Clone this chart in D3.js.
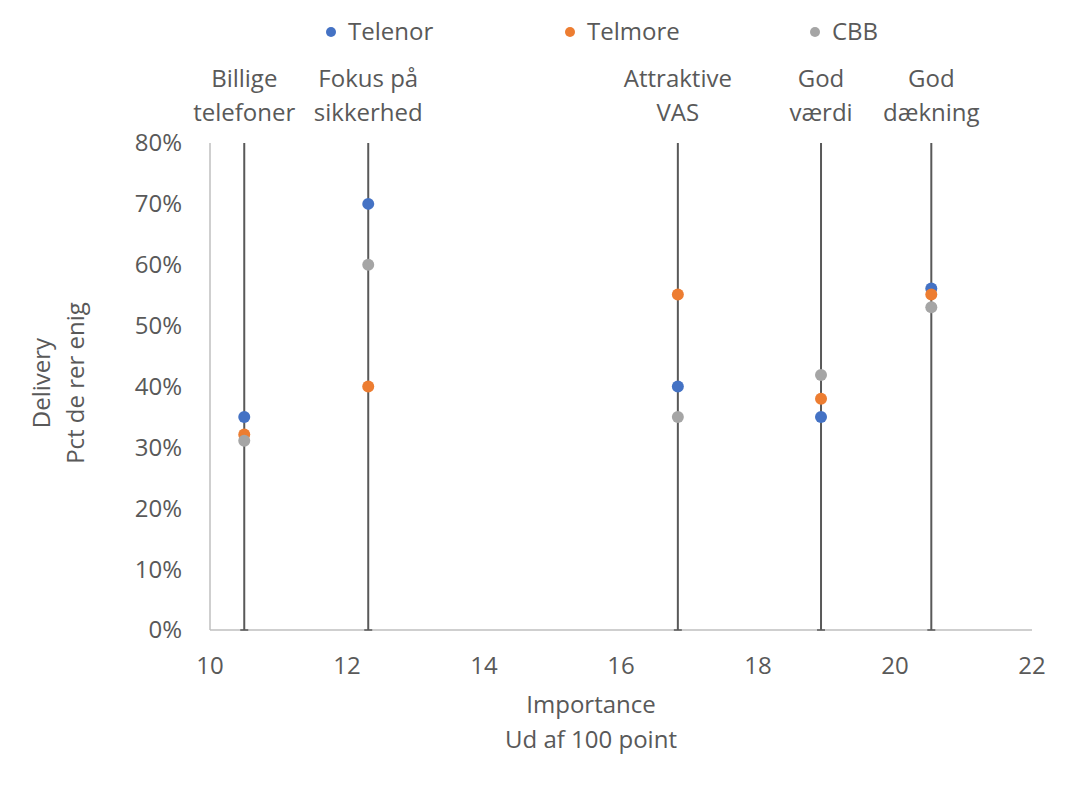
<!DOCTYPE html>
<html><head><meta charset="utf-8">
<script src="https://cdn.jsdelivr.net/npm/d3@7"></script>
<style>body{margin:0;background:#fff;} svg{display:block;font-family:"Open Sans",Lato,sans-serif;}</style>
</head><body><svg id="c" width="1080" height="793"></svg>
<script>
const categories = [["Billige","telefoner"],["Fokus på","sikkerhed"],["Attraktive","VAS"],["God","værdi"],["God","dækning"]];
const importance = [10.5, 12.31, 16.83, 18.92, 20.53];
const seriesNames = ["Telenor","Telmore","CBB"];
const telenor = [0.35, 0.70, 0.40, 0.35, 0.561];
const telmore = [0.321, 0.40, 0.551, 0.38, 0.551];
const cbb = [0.311, 0.60, 0.35, 0.419, 0.53];
const colors = ["#4472C4","#ED7D31","#A5A5A5"];
const xTicks = [10,12,14,16,18,20,22];
const yTicks = [0,0.1,0.2,0.3,0.4,0.5,0.6,0.7,0.8];

const svg = d3.select("#c");
const x = d3.scaleLinear().domain([10,22]).range([210,1032]);
const y = d3.scaleLinear().domain([0,0.8]).range([630,143]);
const txt = "#595959";
const fs = 24;

svg.append("line").attr("x1",210).attr("x2",210).attr("y1",143).attr("y2",630).attr("stroke","#BFBFBF").attr("stroke-width",1.5);
svg.append("line").attr("x1",210).attr("x2",1032).attr("y1",630).attr("y2",630).attr("stroke","#BFBFBF").attr("stroke-width",1.5);

svg.append("g").selectAll("text").data(yTicks).join("text")
  .attr("x",182).attr("y",d=>y(d)).attr("dy","0.35em").attr("text-anchor","end")
  .attr("font-size",fs).attr("fill",txt).text(d=>d3.format(".0%")(d));
svg.append("g").selectAll("text").data(xTicks).join("text")
  .attr("x",d=>x(d)).attr("y",666).attr("dy","0.35em").attr("text-anchor","middle")
  .attr("font-size",fs).attr("fill",txt).text(d=>d);

svg.append("g").selectAll("line").data(importance).join("line")
  .attr("x1",d=>x(d)).attr("x2",d=>x(d)).attr("y1",y(0.8)).attr("y2",y(0))
  .attr("stroke","#595959").attr("stroke-width",2);
svg.append("g").selectAll("line").data(importance).join("line")
  .attr("x1",d=>x(d)-4).attr("x2",d=>x(d)+4).attr("y1",y(0)).attr("y2",y(0))
  .attr("stroke","#595959").attr("stroke-width",1.5);

const cl = svg.append("g").selectAll("text").data(categories).join("text")
  .attr("text-anchor","middle").attr("font-size",fs).attr("fill",txt);
cl.each(function(d,i){
  const t = d3.select(this);
  d.forEach((line,j)=>t.append("tspan").attr("x",x(importance[i])).attr("y",j===0?87:121).text(line));
});

const allSeries = [telenor, telmore, cbb];
allSeries.forEach((vals,si)=>{
  svg.append("g").selectAll("circle").data(vals).join("circle")
    .attr("cx",(d,i)=>x(importance[i])).attr("cy",d=>y(d)).attr("r",6).attr("fill",colors[si]);
});

const legX = [331,570,815];
seriesNames.forEach((n,i)=>{
  svg.append("circle").attr("cx",legX[i]).attr("cy",32).attr("r",5).attr("fill",colors[i]);
  svg.append("text").attr("x",legX[i]+17).attr("y",32).attr("dy","0.35em").attr("font-size",fs).attr("fill",txt).text(n);
});

svg.append("text").attr("x",591).attr("y",705).attr("dy","0.35em").attr("text-anchor","middle").attr("font-size",fs).attr("fill",txt).text("Importance");
svg.append("text").attr("x",591).attr("y",740).attr("dy","0.35em").attr("text-anchor","middle").attr("font-size",fs).attr("fill",txt).text("Ud af 100 point");
svg.append("text").attr("transform","translate(42,383) rotate(-90)").attr("dy","0.35em").attr("text-anchor","middle").attr("font-size",fs).attr("fill",txt).text("Delivery");
svg.append("text").attr("transform","translate(76,383) rotate(-90)").attr("dy","0.35em").attr("text-anchor","middle").attr("font-size",fs).attr("fill",txt).text("Pct de rer enig");
</script></body></html>
